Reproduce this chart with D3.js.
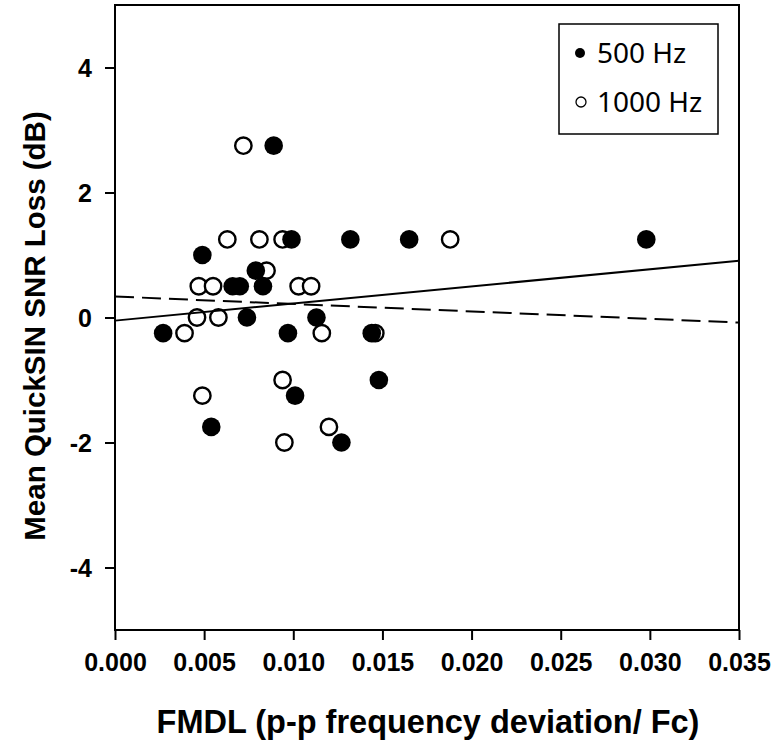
<!DOCTYPE html>
<html><head><meta charset="utf-8">
<script src="https://cdn.jsdelivr.net/npm/d3@7"></script>
<style>body{margin:0;background:#fff;}svg{display:block;}</style>
</head><body><svg id="c" width="775" height="751"></svg>
<script>
// 500 Hz (filled)
const fmdl500 = [0.0027,0.0049,0.0054,0.0074,0.0066,0.0070,0.0079,0.0083,0.0089,0.0099,0.0097,0.0101,0.0113,0.0132,0.0127,0.0144,0.0148,0.0165,0.0298];
const snr500  = [-0.25,1.0,-1.75,0.0,0.5,0.5,0.75,0.5,2.75,1.25,-0.25,-1.25,0.0,1.25,-2.0,-0.25,-1.0,1.25,1.25];
// 1000 Hz (open)
const fmdl1000 = [0.0039,0.0046,0.0047,0.0049,0.0055,0.0058,0.0063,0.0072,0.0081,0.0085,0.0094,0.0094,0.0095,0.0103,0.0110,0.0116,0.0120,0.0146,0.0188];
const snr1000  = [-0.25,0.0,0.5,-1.25,0.5,0.0,1.25,2.75,1.25,0.75,1.25,-1.0,-2.0,0.5,0.5,-0.25,-1.75,-0.25,1.25];
// regression fits [intercept, slope]
const fit500 = [-0.05, 27.4];
const fit1000 = [0.336, -11.9];
const xTicks = [0,0.005,0.010,0.015,0.020,0.025,0.030,0.035];
const yTicks = [-4,-2,0,2,4];
const seriesNames = ["500 Hz","1000 Hz"];

const svg = d3.select("#c");
const L=115,R=739,T=5,B=630;
const x = d3.scaleLinear().domain([0,0.035]).range([L,R]);
const y = d3.scaleLinear().domain([-5,5]).range([B,T]);

const xAxis = svg.append("g").attr("transform",`translate(0,${B})`)
  .call(d3.axisBottom(x).tickValues(xTicks).tickFormat(d3.format(".3f")).tickSize(10).tickSizeOuter(0).tickPadding(13));
const yAxis = svg.append("g").attr("transform",`translate(${L},0)`)
  .call(d3.axisLeft(y).tickValues(yTicks).tickFormat(d=>String(d)).tickSize(10).tickSizeOuter(0).tickPadding(13));
[xAxis,yAxis].forEach(g=>{
  g.select(".domain").remove();
  g.selectAll("line").attr("stroke","#000").attr("stroke-width",2);
  g.selectAll("text").attr("fill","#000").attr("font-family","Liberation Sans, Arial, sans-serif")
   .attr("font-weight","bold").attr("font-size",25);
});
yAxis.selectAll("text").attr("dy","0.35em");

// frame
svg.append("rect").attr("x",L).attr("y",T).attr("width",R-L).attr("height",B-T)
  .attr("fill","none").attr("stroke","#000").attr("stroke-width",2);

// points: open first then filled
svg.append("g").selectAll("circle").data(fmdl1000.map((v,i)=>[v,snr1000[i]])).join("circle")
  .attr("cx",d=>x(d[0])).attr("cy",d=>y(d[1])).attr("r",8.2)
  .attr("fill","#fff").attr("stroke","#000").attr("stroke-width",2.4);
svg.append("g").selectAll("circle").data(fmdl500.map((v,i)=>[v,snr500[i]])).join("circle")
  .attr("cx",d=>x(d[0])).attr("cy",d=>y(d[1])).attr("r",9.3)
  .attr("fill","#000");

// regression lines
const line = d3.line().x(d=>x(d[0])).y(d=>y(d[1]));
const ends = x.domain();
svg.append("path").datum(ends.map(v=>[v,fit500[0]+fit500[1]*v])).attr("d",line)
  .attr("fill","none").attr("stroke","#000").attr("stroke-width",2);
svg.append("path").datum(ends.map(v=>[v,fit1000[0]+fit1000[1]*v])).attr("d",line)
  .attr("fill","none").attr("stroke","#000").attr("stroke-width",2).attr("stroke-dasharray","19,8");

// legend
const lg = svg.append("g");
lg.append("rect").attr("x",559).attr("y",24).attr("width",159).attr("height",110)
  .attr("fill","#fff").attr("stroke","#000").attr("stroke-width",1.5);
lg.append("circle").attr("cx",580).attr("cy",53).attr("r",5).attr("fill","#000");
lg.append("circle").attr("cx",581).attr("cy",102).attr("r",5).attr("fill","#fff").attr("stroke","#000").attr("stroke-width",1.3);
lg.selectAll("text").data(seriesNames).join("text")
  .attr("x",597).attr("y",(d,i)=>[53,102][i]).attr("dy","0.35em")
  .attr("font-family","Noto Sans, sans-serif").attr("font-size",28).attr("fill","#000").text(d=>d);

// axis titles
svg.append("text").attr("x",428).attr("y",722).attr("dy","0.35em").attr("text-anchor","middle")
  .attr("font-family","Liberation Sans, Arial, sans-serif").attr("font-weight","bold").attr("font-size",32.5)
  .text("FMDL (p-p frequency deviation/ Fc)");
svg.append("text").attr("transform","translate(35,326) rotate(-90)").attr("dy","0.35em").attr("text-anchor","middle")
  .attr("font-family","Liberation Sans, Arial, sans-serif").attr("font-weight","bold").attr("font-size",29.5)
  .text("Mean QuickSIN SNR Loss (dB)");
</script></body></html>
